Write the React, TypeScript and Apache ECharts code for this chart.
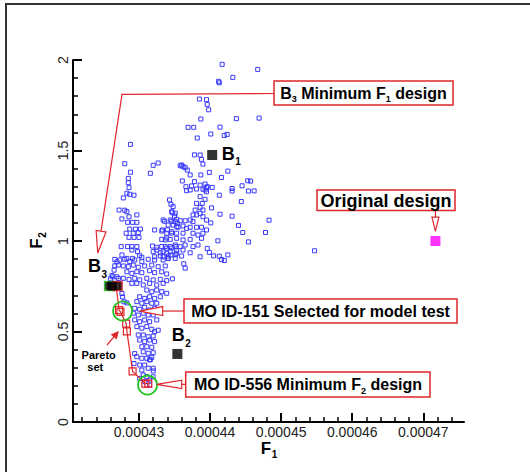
import React, { useEffect, useRef } from "react";
import * as echarts from "echarts";

// F1 values below are given in units of 1e-5 (e.g. 43.2 -> 0.000432)
const F1_UNIT = 1e-5;
const X_MIN = 42.072;
const X_MAX = 47.572;

const xMajorTicks = [43, 44, 45, 46, 47];
const xMinorTicks = [
  42.2, 42.4, 42.6, 42.8, 43.2, 43.4, 43.6, 43.8, 44.2, 44.4, 44.6, 44.8, 45.2, 45.4, 45.6, 45.8,
  46.2, 46.4, 46.6, 46.8, 47.2, 47.4,
];

// all evaluated designs [F1 (1e-5), F2]
const upperDesigns: [number, number][] = [
  [44.17, 1.976], [44.67, 1.948], [44.32, 1.904], [44.12, 1.882], [44.13, 1.874], [43.85, 1.784],
  [43.95, 1.781], [43.96, 1.755], [43.98, 1.725], [43.87, 1.674], [44.37, 1.676], [44.69, 1.679],
  [43.69, 1.628], [43.77, 1.628], [44.14, 1.629], [43.82, 1.569], [44.01, 1.591], [44.2, 1.583],
  [44.24, 1.589], [42.88, 1.534], [43.78, 1.476],
];
const rightDesigns: [number, number][] = [
  [44.25, 1.386], [44.53, 1.333], [44.57, 1.331], [44.45, 1.305], [44.31, 1.29], [44.31, 1.276],
  [44.54, 1.276], [44.62, 1.277], [44.44, 1.218], [44.83, 1.115], [44.31, 1.137], [44.4, 1.086],
  [44.46, 1.047], [44.78, 1.047], [44.54, 0.995], [45.47, 0.946], [44.25, 0.923], [43.99, 1.379],
  [44.16, 1.351], [44.03, 1.296], [43.96, 1.3], [43.95, 1.294], [43.93, 1.282], [44.13, 1.253],
  [44.02, 1.183], [44.14, 1.148], [44.01, 1.1], [44.11, 1.001], [43.96, 0.959], [43.99, 0.937],
  [44.05, 0.918], [44.13, 0.916], [44.16, 0.898], [44.2, 0.892], [43.63, 0.874], [43.65, 0.85],
  [43.47, 0.791],
];
const middleDesigns: [number, number][] = [
  [43.86, 1.475], [43.88, 1.451], [43.9, 1.425], [43.6, 1.42], [43.62, 1.411], [43.65, 1.405],
  [43.68, 1.392], [43.72, 1.365], [43.87, 1.365], [43.61, 1.332], [43.78, 1.328], [43.66, 1.3],
  [43.74, 1.304], [43.86, 1.309], [43.93, 1.315], [43.67, 1.278], [43.72, 1.282], [43.81, 1.287],
  [43.9, 1.286], [43.95, 1.272], [43.86, 1.245], [43.93, 1.23], [43.81, 1.208], [43.89, 1.208],
  [43.86, 1.186], [43.9, 1.171], [43.79, 1.171], [43.46, 1.162], [43.51, 1.153], [43.76, 1.144],
  [43.81, 1.144], [43.86, 1.153], [43.9, 1.134], [43.95, 1.116], [43.34, 1.116], [43.44, 1.116],
  [43.51, 1.107], [43.58, 1.112], [43.65, 1.112], [43.72, 1.116], [43.76, 1.107], [43.41, 1.088],
  [43.48, 1.088], [43.55, 1.076], [43.62, 1.083], [43.67, 1.07], [43.72, 1.076], [43.81, 1.076],
  [43.88, 1.076], [43.95, 1.061], [43.33, 1.061], [43.39, 1.043], [43.46, 1.043], [43.53, 1.043],
  [43.62, 1.043], [43.76, 1.043], [43.83, 1.033], [43.9, 1.043], [43.37, 1.006], [43.44, 1.009],
  [43.53, 1.015], [43.62, 1.006], [43.72, 1.009], [43.88, 1.015], [43.37, 0.969], [43.44, 0.969],
  [43.51, 0.978], [43.58, 0.969], [43.65, 0.978], [43.76, 0.969], [43.83, 0.978], [43.34, 0.941],
  [43.44, 0.941], [43.53, 0.946], [43.62, 0.95], [43.72, 0.935], [43.86, 0.913], [43.3, 0.917],
  [43.41, 0.917], [43.51, 0.923], [43.6, 0.917],
];
const leftDesigns: [number, number][] = [
  [42.8, 1.427], [42.88, 1.38], [43.2, 1.418], [43.27, 1.431], [43.16, 1.374], [42.85, 1.346],
  [42.85, 1.322], [42.86, 1.295], [42.83, 1.264], [42.87, 1.258], [42.93, 1.253], [42.78, 1.238],
  [43.58, 1.416], [43.43, 1.227], [43.45, 1.203], [43.48, 1.19], [42.72, 1.171], [42.8, 1.17],
  [42.83, 1.162], [42.97, 1.144], [42.86, 1.134], [43.47, 1.156], [43.5, 1.138], [42.76, 1.122],
  [42.84, 1.103], [42.91, 1.103], [42.97, 1.103], [43.36, 1.109], [43.46, 1.109], [43.53, 1.12],
  [43.54, 1.098], [42.87, 1.066], [42.95, 1.066], [43.02, 1.066], [43.22, 1.061], [43.32, 1.055],
  [43.4, 1.062], [43.53, 1.079], [42.82, 1.043], [42.92, 1.043], [42.99, 1.046], [43.46, 1.051],
  [42.86, 1.02], [42.93, 1.02], [43.0, 1.02], [43.39, 1.017], [43.32, 1.009], [42.75, 0.969],
  [42.84, 0.969], [42.9, 0.969], [42.97, 0.969], [43.19, 0.972], [43.25, 0.965], [43.32, 0.969],
  [43.39, 0.96], [43.46, 0.961], [43.52, 0.969], [42.9, 0.95], [42.98, 0.941], [43.01, 0.919],
  [43.2, 0.941], [43.25, 0.95], [43.3, 0.935], [43.39, 0.932], [43.45, 0.923], [43.53, 0.932],
  [42.76, 0.923], [42.83, 0.904], [42.91, 0.904], [43.04, 0.91], [43.22, 0.913], [43.34, 0.913],
  [43.41, 0.904], [43.51, 0.904],
];
const lowerDesigns: [number, number][] = [
  [42.73, 0.895], [42.8, 0.899], [42.87, 0.886], [42.94, 0.895], [43.04, 0.886], [43.13, 0.899],
  [43.22, 0.895], [43.34, 0.895], [43.41, 0.904], [42.71, 0.867], [42.78, 0.862], [42.85, 0.858],
  [42.92, 0.867], [42.99, 0.855], [43.08, 0.862], [43.18, 0.867], [43.27, 0.858], [43.37, 0.862],
  [42.83, 0.83], [42.9, 0.821], [42.97, 0.83], [43.04, 0.825], [43.15, 0.836], [43.22, 0.825],
  [43.32, 0.83], [43.39, 0.818], [42.78, 0.794], [42.86, 0.788], [42.94, 0.794], [43.01, 0.785],
  [43.11, 0.794], [43.2, 0.785], [43.3, 0.788], [43.39, 0.781], [42.9, 0.766], [42.97, 0.766],
  [43.06, 0.757], [43.15, 0.766], [43.25, 0.757], [43.34, 0.766], [43.11, 0.729], [43.18, 0.72],
  [43.25, 0.729], [43.32, 0.72], [43.39, 0.711], [43.01, 0.692], [43.08, 0.683], [43.15, 0.692],
  [43.22, 0.683], [43.3, 0.692], [42.97, 0.665], [43.04, 0.656], [43.11, 0.665], [43.18, 0.656],
  [43.25, 0.656], [42.94, 0.628], [43.01, 0.623], [43.08, 0.634], [43.15, 0.619], [43.22, 0.628],
  [42.92, 0.601], [42.99, 0.591], [43.06, 0.601], [43.13, 0.591], [43.2, 0.591], [43.27, 0.507],
  [42.94, 0.564], [43.01, 0.554], [43.08, 0.564], [43.15, 0.554], [43.25, 0.564], [42.97, 0.527],
  [43.04, 0.518], [43.11, 0.527], [43.18, 0.512], [43.22, 0.499], [42.99, 0.481], [43.06, 0.481],
  [43.13, 0.471], [43.2, 0.475], [43.01, 0.453], [43.08, 0.444], [43.15, 0.453], [43.22, 0.444],
  [43.04, 0.416], [43.11, 0.416], [43.18, 0.413], [43.06, 0.388], [43.13, 0.38], [43.2, 0.383],
  [42.97, 0.361], [43.04, 0.352], [43.11, 0.352], [43.18, 0.357], [43.15, 0.343], [43.01, 0.315],
  [43.08, 0.315], [43.13, 0.297], [43.2, 0.297], [43.04, 0.287], [42.93, 0.323], [42.94, 0.378],
  [43.16, 0.345], [43.2, 0.282], [43.06, 0.26], [43.01, 0.241], [43.11, 0.25], [43.08, 0.223],
  [43.15, 0.232], [43.2, 0.25], [43.15, 0.204], [42.62, 0.809], [42.6, 0.791], [42.66, 0.863],
  [42.65, 0.839], [42.63, 0.802], [42.69, 0.802], [42.71, 0.793], [42.66, 0.898], [42.69, 0.885],
  [42.76, 0.71], [42.77, 0.691], [42.79, 0.664], [42.83, 0.658],
];

// Pareto set designs
const paretoSet: [number, number][] = [
  [42.62, 0.751], [42.68, 0.751], [42.72, 0.618], [42.74, 0.608], [42.82, 0.544], [42.83, 0.501],
  [42.91, 0.28], [43.09, 0.212], [43.13, 0.212],
];
// selected designs: MO ID-151, MO ID-556
const selectedDesigns: [number, number][] = [[42.77, 0.613], [43.12, 0.204]];
const designB1: [number, number] = [44.03, 1.475];
const designB2: [number, number] = [43.54, 0.376];
const designB3: [number, number] = [42.62, 0.751];
const designB3Neighbours: [number, number][] = [[42.58, 0.751], [42.7, 0.751]];
const originalDesign: [number, number] = [47.17, 1.0];

// annotation anchors (data space)
const tipB3Callout: [number, number] = [42.42, 0.934];
const tipOriginal: [number, number] = [47.17, 1.055];
const tipMO151: [number, number] = [43.01, 0.613];
const tipMO556: [number, number] = [43.25, 0.208];

const FONT = '"Liberation Sans", Arial, Helvetica, sans-serif';
const RED = "#e0262b";
const BLUE = "#3a3aff";
const GREEN = "#22c422";

const toXY = (pts: [number, number][]) => pts.map(([a, b]) => [a * F1_UNIT, b]);

let measureCtx: CanvasRenderingContext2D | null = null;
function measure(t: string, size: number, weight: string) {
  if (!measureCtx) measureCtx = document.createElement("canvas").getContext("2d");
  measureCtx!.font = `${weight} ${size}px ${FONT}`;
  return measureCtx!.measureText(t).width;
}

type Part = { t: string; size: number; dy?: number };
function run(
  parts: Part[],
  x: number,
  y: number,
  align: "left" | "center",
  weight = "bold",
  color = "#000",
  gap = 0
) {
  const widths = parts.map((p) => measure(p.t, p.size, weight));
  const total = widths.reduce((a, b) => a + b, 0) + gap * (parts.length - 1);
  let cx = align === "center" ? x - total / 2 : x;
  const els: any[] = [];
  parts.forEach((p, i) => {
    const lead = (p.t.match(/^ */) as RegExpMatchArray)[0];
    const txt = p.t.trim();
    els.push({
      type: "text",
      x: cx + measure(lead, p.size, weight),
      y: y + (p.dy || 0),
      z: 100,
      style: {
        text: txt,
        fontSize: p.size,
        fontWeight: weight,
        fontFamily: FONT,
        fill: color,
        textAlign: "left",
        textVerticalAlign: "middle",
      },
    });
    cx += widths[i] + gap;
  });
  return els;
}

function arrow(from: number[], tip: number[], L: number, w: number, filled = false) {
  const dx = tip[0] - from[0];
  const dy = tip[1] - from[1];
  const len = Math.hypot(dx, dy);
  const ux = dx / len;
  const uy = dy / len;
  const bx = tip[0] - ux * L;
  const by = tip[1] - uy * L;
  const nx = -uy;
  const ny = ux;
  return {
    base: [bx, by],
    head: {
      type: "polygon",
      z: 100,
      shape: { points: [tip, [bx + nx * w, by + ny * w], [bx - nx * w, by - ny * w]] },
      style: { fill: filled ? RED : "#fff", stroke: RED, lineWidth: 1.2 },
    },
  };
}

function line(points: number[][]) {
  return { type: "polyline", z: 100, shape: { points }, style: { stroke: RED, lineWidth: 1.2, fill: "none" } };
}

function box(x: number, y: number, w: number, h: number) {
  return { type: "rect", z: 99, shape: { x, y, width: w, height: h }, style: { fill: "#fff", stroke: RED, lineWidth: 1.5 } };
}

export default function App() {
  const ref = useRef<HTMLDivElement>(null);

  useEffect(() => {
    document.body.style.margin = "0";
    const chart = echarts.init(ref.current!, undefined, { renderer: "svg" });
    const allDesigns = [...upperDesigns, ...rightDesigns, ...middleDesigns, ...leftDesigns, ...lowerDesigns];
    const sq = (c: string) => ({ color: c, borderWidth: 0 });

    chart.setOption({
      animation: false,
      backgroundColor: "#fff",
      grid: { left: 73, right: 66, top: 60, bottom: 50, containLabel: false, outerBoundsMode: "none" },
      xAxis: [
        {
          type: "value",
          min: X_MIN * F1_UNIT,
          max: X_MAX * F1_UNIT,
          position: "bottom",
          axisLine: { show: true, onZero: false, lineStyle: { color: "#000", width: 2 } },
          axisTick: {
            show: true,
            inside: true,
            length: 9,
            customValues: xMajorTicks.map((v) => v * F1_UNIT),
            lineStyle: { color: "#000", width: 2 },
          },
          axisLabel: {
            show: true,
            customValues: xMajorTicks.map((v) => v * F1_UNIT),
            formatter: (v: number) => v.toFixed(5),
            margin: 3,
            fontSize: 14,
            color: "#222",
            fontFamily: FONT,
          },
          splitLine: { show: false },
        },
        {
          type: "value",
          min: X_MIN * F1_UNIT,
          max: X_MAX * F1_UNIT,
          position: "bottom",
          offset: 0,
          axisLine: { show: false },
          axisTick: {
            show: true,
            inside: true,
            length: 5,
            customValues: xMinorTicks.map((v) => v * F1_UNIT),
            lineStyle: { color: "#000", width: 1.5 },
          },
          axisLabel: { show: false },
          splitLine: { show: false },
        },
      ],
      yAxis: {
        type: "value",
        min: 0,
        max: 2,
        interval: 0.5,
        axisLine: { show: true, onZero: false, lineStyle: { color: "#000", width: 2 } },
        axisTick: { show: true, inside: true, length: 9, lineStyle: { color: "#000", width: 2 } },
        minorTick: { show: true, splitNumber: 5, length: 5, lineStyle: { color: "#000", width: 1.5 } },
        axisLabel: { rotate: 90, margin: 3, fontSize: 14, color: "#222", fontFamily: FONT },
        splitLine: { show: false },
      },
      series: [
        {
          type: "scatter",
          name: "designs",
          data: toXY(allDesigns),
          symbol: "rect",
          symbolSize: 4,
          itemStyle: { color: "rgba(0,0,0,0)", borderColor: BLUE, borderWidth: 1, opacity: 1 },
          silent: true,
          z: 2,
        },
        {
          type: "line",
          name: "pareto line",
          data: toXY(paretoSet),
          symbol: "none",
          lineStyle: { color: RED, width: 1.2 },
          silent: true,
          z: 3,
        },
        {
          type: "scatter",
          name: "pareto",
          data: toXY(paretoSet),
          symbol: "rect",
          symbolSize: 7,
          itemStyle: { color: "rgba(0,0,0,0)", borderColor: RED, borderWidth: 1.2, opacity: 1 },
          silent: true,
          z: 4,
        },
        {
          type: "scatter",
          name: "B3 group",
          data: [
            { value: toXY([designB3Neighbours[0]])[0], itemStyle: { color: "#000", borderColor: GREEN, borderWidth: 1.5 } },
            { value: toXY([designB3Neighbours[1]])[0], itemStyle: { color: "#000", borderColor: RED, borderWidth: 1.5 } },
            { value: toXY([designB3])[0], itemStyle: sq("#000") },
          ],
          symbol: "rect",
          symbolSize: 9,
          silent: true,
          z: 5,
        },
        {
          type: "scatter",
          name: "selected",
          data: toXY(selectedDesigns),
          symbol: "circle",
          symbolSize: 19,
          itemStyle: { color: "rgba(0,0,0,0)", borderColor: GREEN, borderWidth: 1.8, opacity: 1 },
          silent: true,
          z: 6,
        },
        {
          type: "scatter",
          name: "baselines",
          data: [
            { value: toXY([designB1])[0], itemStyle: sq("#000") },
            { value: toXY([designB2])[0], itemStyle: sq("#000") },
            { value: toXY([originalDesign])[0], itemStyle: sq("#ff00ff") },
          ],
          symbol: "rect",
          symbolSize: 10,
          silent: true,
          z: 7,
        },
      ],
    });

    const P = (d: [number, number]) =>
      chart.convertToPixel({ xAxisIndex: 0, yAxisIndex: 0 }, [d[0] * F1_UNIT, d[1]]) as number[];

    const g: any[] = [];
    // outer frame
    g.push({ type: "rect", z: 1, shape: { x: 6, y: 4, width: 800, height: 800 }, style: { fill: "none", stroke: "#333", lineWidth: 2 } });

    // B3 callout
    {
      const tip = P(tipB3Callout);
      const corner = [122, 94.3];
      const a = arrow(corner, tip, 22, 5);
      g.push(line([[274, 93.5], corner, a.base]), a.head);
      g.push(box(274, 81, 179, 24));
      g.push(
        ...run(
          [
            { t: "B", size: 16 },
            { t: "3", size: 9, dy: 6 },
            { t: " Minimum F", size: 16 },
            { t: "1", size: 9, dy: 6 },
            { t: " design", size: 16 },
          ],
          363.5,
          93,
          "center"
        )
      );
    }
    // Original design callout
    {
      const tip = P(tipOriginal);
      const from = [tip[0], 210];
      const a = arrow(from, tip, 14, 3.5);
      g.push(line([from, a.base]), a.head);
      g.push(box(317, 190, 138, 20.5));
      g.push(...run([{ t: "Original design", size: 18 }], 386, 200.5, "center"));
    }
    // MO ID-151 callout
    {
      const tip = P(tipMO151);
      const from = [184, tip[1]];
      const a = arrow(from, tip, 23, 4.5);
      g.push(line([from, a.base]), a.head);
      g.push(box(184, 299, 273, 24));
      g.push(...run([{ t: "MO ID-151 Selected for model test", size: 16 }], 320.5, 311, "center"));
    }
    // MO ID-556 callout
    {
      const tip = P(tipMO556);
      const from = [185.7, tip[1]];
      const a = arrow(from, tip, 25, 4.2);
      g.push(line([from, a.base]), a.head);
      g.push(box(185.7, 372, 244.3, 25));
      g.push(
        ...run(
          [
            { t: "MO ID-556 Minimum F", size: 16 },
            { t: "2", size: 9, dy: 6 },
            { t: " design", size: 16 },
          ],
          308,
          384.5,
          "center"
        )
      );
    }
    // Pareto set label
    {
      const a = arrow([107, 345], [118, 332], 6, 3, true);
      g.push(line([[107, 345], a.base]), a.head);
      g.push(...run([{ t: "Pareto", size: 11 }], 98.7, 355, "center"));
      g.push(...run([{ t: "set", size: 11 }], 95.3, 367, "center"));
    }
    // B labels
    {
      const b1 = P(designB1);
      g.push(...run([{ t: "B", size: 18 }, { t: "1", size: 10, dy: 8 }], b1[0] + 9.5, b1[1] - 1.5, "left", "bold", "#000", 0.5));
      const b2 = P(designB2);
      g.push(...run([{ t: "B", size: 18 }, { t: "2", size: 10, dy: 8 }], b2[0] - 5.5, b2[1] - 18.5, "left", "bold", "#000", 0.5));
      const b3 = P(designB3);
      g.push(...run([{ t: "B", size: 18 }, { t: "3", size: 10, dy: 8 }], b3[0] - 24, b3[1] - 20, "left", "bold", "#000", 0.5));
    }
    // axis titles
    g.push(...run([{ t: "F", size: 17 }, { t: "1", size: 10, dy: 6 }], 269, 448, "center", "bold", "#000", 0.8));
    g.push({
      type: "group",
      x: 36.7,
      y: 240.5,
      rotation: Math.PI / 2,
      z: 100,
      children: run([{ t: "F", size: 17 }, { t: "2", size: 10, dy: 6 }], 0, 0, "center", "bold", "#000", 0.8),
    });

    chart.setOption({ graphic: { elements: g } });

    return () => chart.dispose();
  }, []);

  return <div ref={ref} style={{ width: 530, height: 472 }} />;
}
